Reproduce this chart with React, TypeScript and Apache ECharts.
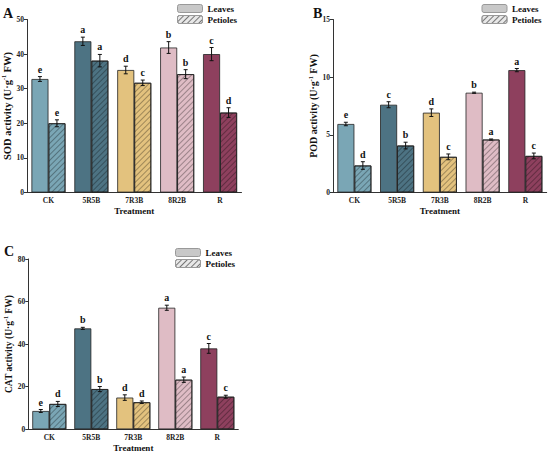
import React, { useEffect, useRef } from "react";
import * as echarts from "echarts";

const categories = ["CK", "5R5B", "7R3B", "8R2B", "R"];
const barColors = ["#7aa6b5", "#4d7383", "#e3c27e", "#dfbcc5", "#8e405e"];

const sodLeaves = [32.8, 43.7, 35.4, 41.9, 40.0];
const sodLeavesErr = [0.7, 1.2, 1.1, 1.7, 1.9];
const sodLeavesLetters = ["e", "a", "d", "b", "c"];
const sodPetioles = [20.0, 38.1, 31.7, 34.2, 23.1];
const sodPetiolesErr = [1.0, 1.8, 0.8, 1.3, 1.4];
const sodPetiolesLetters = ["e", "a", "c", "b", "d"];

const podLeaves = [5.94, 7.61, 6.92, 8.65, 10.61];
const podLeavesErr = [0.15, 0.26, 0.33, 0.05, 0.14];
const podLeavesLetters = ["e", "c", "d", "b", "a"];
const podPetioles = [2.34, 4.07, 3.09, 4.59, 3.17];
const podPetiolesErr = [0.33, 0.29, 0.25, 0.05, 0.25];
const podPetiolesLetters = ["d", "b", "c", "a", "c"];

const catLeaves = [8.6, 47.4, 14.9, 57.1, 38.0];
const catLeavesErr = [0.7, 0.5, 1.3, 1.2, 2.3];
const catLeavesLetters = ["e", "b", "d", "a", "c"];
const catPetioles = [11.9, 18.9, 12.7, 23.3, 15.3];
const catPetiolesErr = [1.2, 1.2, 0.6, 1.25, 0.7];
const catPetiolesLetters = ["d", "b", "d", "a", "c"];

const FONT = "Liberation Serif";
const HALF_BAR = 8.5;

const hatch = (color: string) => ({
  symbol: "rect",
  symbolSize: 1,
  dashArrayX: [1, 0],
  dashArrayY: [1, 2.4],
  rotation: -Math.PI / 4,
  color,
});

function barSeries(name: string, values: number[], idx: number, petiole: boolean) {
  return {
    type: "bar",
    name,
    xAxisIndex: idx,
    yAxisIndex: idx,
    barWidth: 17,
    barGap: "0%",
    itemStyle: petiole
      ? { borderColor: "#222", borderWidth: 0.8, decal: hatch("rgba(0,0,0,0.3)") }
      : { borderColor: "#222", borderWidth: 0.8 },
    data: values.map((v, i) => ({
      value: v,
      itemStyle: { color: barColors[i] },
    })),
  };
}

function errSeries(values: number[], errs: number[], letters: string[], idx: number, offset: number) {
  return {
    type: "custom",
    name: "err" + idx + offset,
    xAxisIndex: idx,
    yAxisIndex: idx,
    silent: true,
    z: 5,
    data: values.map((v, i) => [i, v, errs[i]]),
    renderItem: (params: any, api: any) => {
      const i = api.value(0);
      const v = api.value(1);
      const e = api.value(2);
      const top = api.coord([i, v + e]);
      const bot = api.coord([i, v - e]);
      const x = top[0] + offset;
      const st = { stroke: "#111", lineWidth: 1 };
      return {
        type: "group",
        children: [
          { type: "line", shape: { x1: x, y1: top[1], x2: x, y2: bot[1] }, style: st },
          { type: "line", shape: { x1: x - 2, y1: top[1], x2: x + 2, y2: top[1] }, style: st },
          { type: "line", shape: { x1: x - 2, y1: bot[1], x2: x + 2, y2: bot[1] }, style: st },
          {
            type: "text",
            x,
            y: top[1] - 2.5,
            style: {
              text: letters[params.dataIndex],
              textAlign: "center",
              textVerticalAlign: "bottom",
              font: `bold 10px "${FONT}"`,
              fill: "#111",
            },
          },
        ],
      };
    },
  };
}

function yName(label: string) {
  return `{t|${label} activity (U·g}{s|-1}{t| FW)}`;
}

export default function App() {
  const ref = useRef<HTMLDivElement>(null);
  useEffect(() => {
    document.body.style.margin = "0";
    const chart = echarts.init(ref.current!, undefined, { renderer: "svg" });
    const grids = [
      { left: 27, top: 19.5, width: 214.5, height: 173 },
      { left: 333, top: 19.5, width: 213.7, height: 173 },
      { left: 28.3, top: 259, width: 210, height: 170.3 },
    ];
    const yCfg = [
      { max: 50, interval: 10, name: yName("SOD"), size: 10.5 },
      { max: 15, interval: 5, name: yName("POD"), size: 10 },
      { max: 80, interval: 20, name: yName("CAT"), size: 9.5 },
    ];
    const axisLine = { show: true, lineStyle: { color: "#333", width: 1 } };
    const option: any = {
      animation: false,
      textStyle: { fontFamily: FONT },
      title: [
        { text: "A", left: 3, top: 6 },
        { text: "B", left: 313, top: 6 },
        { text: "C", left: 4, top: 244 },
      ].map((t) => ({
        ...t,
        padding: 0,
        textStyle: { fontFamily: FONT, fontWeight: "bold", fontSize: 14, color: "#111" },
      })),
      legend: [
        { left: 177, top: 4 },
        { left: 481.5, top: 4 },
        { left: 175, top: 248 },
      ].map((l) => ({
        ...l,
        orient: "vertical",
        itemWidth: 25,
        itemHeight: 8,
        itemGap: 2,
        padding: 0,
        selectedMode: false,
        textStyle: { fontFamily: FONT, fontWeight: "bold", fontSize: 9, color: "#111", lineHeight: 9 },
        data: [
          { name: "Leaves", itemStyle: { color: "#c8c8c8", borderColor: "#999", borderWidth: 1, decal: "none" } },
          {
            name: "Petioles",
            itemStyle: { color: "#e8e8e8", borderColor: "#999", borderWidth: 1, decal: hatch("rgba(90,90,90,0.8)") },
          },
        ],
      })),
      grid: grids,
      xAxis: grids.map((g, i) => ({
        type: "category",
        gridIndex: i,
        data: categories,
        axisLine,
        axisTick: { show: false },
        axisLabel: { fontFamily: FONT, fontWeight: "bold", fontSize: 7.5, color: "#222", margin: 4 },
        name: "Treatment",
        nameLocation: "middle",
        nameGap: 14,
        nameTextStyle: { fontFamily: FONT, fontWeight: "bold", fontSize: 9, color: "#111" },
      })),
      yAxis: yCfg.map((c, i) => ({
        type: "value",
        gridIndex: i,
        min: 0,
        max: c.max,
        interval: c.interval,
        axisLine,
        axisTick: { show: true, length: 3, lineStyle: { color: "#333" } },
        splitLine: { show: false },
        axisLabel: { fontFamily: FONT, fontWeight: "bold", fontSize: 7.5, color: "#222", margin: 3 },
        name: c.name,
        nameLocation: "middle",
        nameGap: 12,
        nameTextStyle: {
          rich: {
            t: { fontFamily: FONT, fontWeight: "bold", fontSize: c.size, color: "#111", lineHeight: 12 },
            s: { fontFamily: FONT, fontWeight: "bold", fontSize: 6, color: "#111", verticalAlign: "top", lineHeight: 12 },
          },
        },
      })),
      series: [
        barSeries("Leaves", sodLeaves, 0, false),
        barSeries("Petioles", sodPetioles, 0, true),
        barSeries("Leaves", podLeaves, 1, false),
        barSeries("Petioles", podPetioles, 1, true),
        barSeries("Leaves", catLeaves, 2, false),
        barSeries("Petioles", catPetioles, 2, true),
        errSeries(sodLeaves, sodLeavesErr, sodLeavesLetters, 0, -HALF_BAR),
        errSeries(sodPetioles, sodPetiolesErr, sodPetiolesLetters, 0, HALF_BAR),
        errSeries(podLeaves, podLeavesErr, podLeavesLetters, 1, -HALF_BAR),
        errSeries(podPetioles, podPetiolesErr, podPetiolesLetters, 1, HALF_BAR),
        errSeries(catLeaves, catLeavesErr, catLeavesLetters, 2, -HALF_BAR),
        errSeries(catPetioles, catPetiolesErr, catPetiolesLetters, 2, HALF_BAR),
      ],
    };
    chart.setOption(option);
    return () => chart.dispose();
  }, []);
  return <div ref={ref} style={{ width: 550, height: 459 }} />;
}
